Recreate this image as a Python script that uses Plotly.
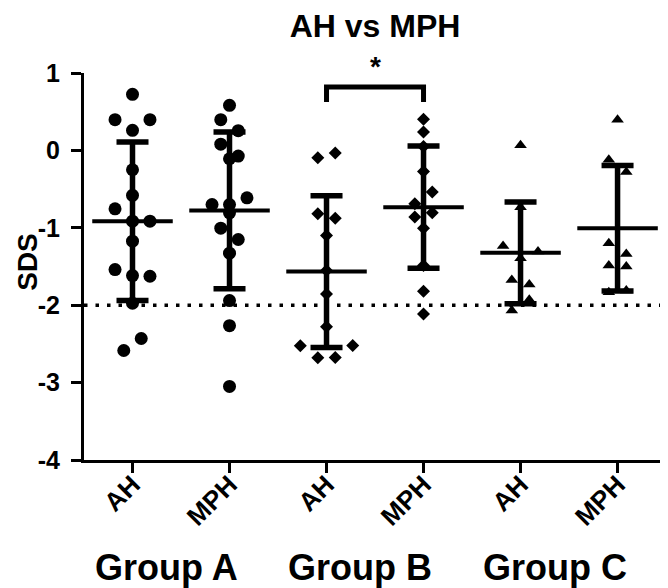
import plotly.graph_objects as go

# ---------------- data ----------------
TITLE = "AH vs MPH"
Y_LABEL = "SDS"
GROUPS = ["Group A", "Group B", "Group C"]
SUBCATS = ["AH", "MPH"]
Y_TICK_VALUES = [-4, -3, -2, -1, 0, 1]
Y_TICK_LABELS = ["-4", "-3", "-2", "-1", "0", "1"]
REFERENCE_LINE = -2

A_AH = [0.724, 0.397, 0.259, 0.397, -0.25, -0.58, -0.755, -0.914, -0.914,
        -1.173, -1.54, -1.617, -1.626, -1.975, -2.585, -2.43]
A_MPH = [0.582, 0.397, 0.255, 0.08, -0.073, -0.108, -0.699, -0.699, -0.613,
         -0.806, -1.005, -1.151, -1.328, -1.94, -2.264, -3.049]
B_AH = [-0.095, -0.035, -0.819, -0.875, -1.10, -1.552, -1.854, -2.277,
        -2.525, -2.68, -2.675, -2.52]
B_MPH = [0.401, 0.237, 0.052, -0.272, -0.69, -0.539, -0.862, -0.806,
         -1.005, -1.488, -1.82, -2.113]
C_AH = [0.065, -0.733, -1.235, -1.395, -1.307, -1.673, -1.734, -2.07, -1.931]
C_MPH = [0.397, -0.12, -0.28, -1.199, -1.337, -1.488, -1.501, -1.833, -1.811]

MEANS = [-0.915, -0.776, -1.565, -0.733, -1.323, -1.005]
SDS = [1.024, 1.013, 0.98, 0.79, 0.657, 0.81]

SIG_PAIR = (2, 3)       # Group B: AH vs MPH
SIG_LABEL = "*"

# ---------------- styling / layout ----------------
FONT = "Liberation Sans, Arial, sans-serif"
SERIES = [A_AH, A_MPH, B_AH, B_MPH, C_AH, C_MPH]
SYMBOLS = ["circle", "circle", "diamond", "diamond", "triangle-up", "triangle-up"]
MSIZES = [13, 13, 10, 10, 11, 11]
WINDOW = 0.162   # values closer than this share a row in the scatter
SPREAD = 0.18    # horizontal spacing of points within a row (x units)
MEAN_HALF = 0.415

FIG_W, FIG_H = 660, 580   # page body adds an 8px margin


def spread_offsets(vals):
    order = sorted(range(len(vals)), key=lambda i: -vals[i])
    clusters = []
    for i in order:
        if clusters and vals[clusters[-1][0]] - vals[i] <= WINDOW:
            clusters[-1].append(i)
        else:
            clusters.append([i])
    off = [0.0] * len(vals)
    for c in clusters:
        c = sorted(c)
        n = len(c)
        for k, i in enumerate(c):
            off[i] = (k - (n - 1) / 2) * SPREAD
    return off


fig = go.Figure()

n_cat = len(SERIES)
cat_x = list(range(n_cat))

# mean + SD
fig.add_trace(go.Scatter(
    x=cat_x, y=MEANS, mode="markers",
    marker=dict(size=1, color="rgba(0,0,0,0)"),
    error_y=dict(type="data", array=SDS, symmetric=True, color="black",
                 thickness=5.5, width=16),
    error_x=dict(type="data", array=[MEAN_HALF] * n_cat, symmetric=True,
                 color="black", thickness=4, width=0),
    hoverinfo="skip", showlegend=False,
))

for ci, vals in enumerate(SERIES):
    offs = spread_offsets(vals)
    fig.add_trace(go.Scatter(
        x=[ci + o for o in offs], y=vals, mode="markers",
        marker=dict(symbol=SYMBOLS[ci], size=MSIZES[ci], color="black",
                    line=dict(width=0)),
        showlegend=False,
    ))

shapes = [
    dict(type="line", xref="paper", x0=0, x1=1, yref="y",
         y0=REFERENCE_LINE, y1=REFERENCE_LINE, layer="below",
         line=dict(color="black", width=3.5, dash="3.5px,8px")),
]
SIG_TOP, SIG_BOTTOM = 0.82, 0.625
xa, xb = SIG_PAIR
shapes.append(dict(type="path",
                   path=f"M {xa},{SIG_BOTTOM} L {xa},{SIG_TOP} L {xb},{SIG_TOP} L {xb},{SIG_BOTTOM}",
                   xref="x", yref="y", line=dict(color="black", width=5)))

annotations = [
    dict(text=f"<b>{SIG_LABEL}</b>", x=(xa + xb) / 2, y=SIG_TOP, xref="x", yref="y",
         yanchor="bottom", yshift=3, showarrow=False,
         font=dict(family=FONT, size=28, color="black")),
    dict(text=f"<b>{Y_LABEL}</b>", x=-0.096, y=0.512, xref="paper", yref="paper",
         textangle=-90, showarrow=False, xanchor="center", yanchor="middle",
         font=dict(family=FONT, size=28, color="black")),
]
for gi, g in enumerate(GROUPS):
    annotations.append(dict(text=f"<b>{g}</b>", x=gi * 2 + 0.35, y=-0.2765,
                            xref="x", yref="paper", showarrow=False,
                            xanchor="center", yanchor="middle",
                            font=dict(family=FONT, size=36, color="black")))

fig.update_layout(
    width=FIG_W, height=FIG_H,
    margin=dict(l=76, r=0, t=65, b=128),
    paper_bgcolor="white", plot_bgcolor="white",
    title=dict(text=f"<b>{TITLE}</b>", x=367 / FIG_W, xanchor="center",
               y=1 - 18 / FIG_H, yanchor="middle",
               font=dict(family=FONT, size=32, color="black")),
    xaxis=dict(range=[-0.5, 5.52], tickvals=cat_x, ticktext=SUBCATS * len(GROUPS),
               tickangle=-45, showgrid=False, zeroline=False,
               showline=True, linecolor="black", linewidth=3,
               ticks="outside", ticklen=10, tickwidth=3, tickcolor="black",
               ticklabelstandoff=-14,
               tickfont=dict(family=FONT, size=26, color="black", weight="bold")),
    yaxis=dict(range=[-4, 1], tickvals=Y_TICK_VALUES, ticktext=Y_TICK_LABELS,
               showgrid=False, zeroline=False,
               showline=True, linecolor="black", linewidth=3,
               ticks="outside", ticklen=10, tickwidth=3, tickcolor="black",
               ticklabelstandoff=6,
               tickfont=dict(family=FONT, size=25, color="black", weight="bold")),
    shapes=shapes, annotations=annotations,
)

fig.write_html("out.html")
